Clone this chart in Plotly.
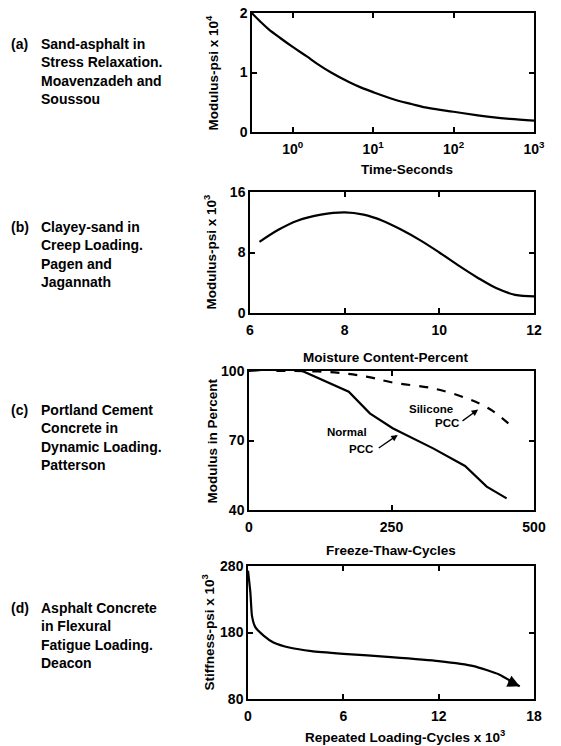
import plotly.graph_objects as go

# ---------------- data ----------------
# (a) Sand-asphalt, stress relaxation
a_time = [0.31, 0.4, 0.5, 0.7, 1, 1.5, 2, 3, 5, 7, 10, 20, 30, 50, 100, 200, 300, 500, 1000]
a_mod = [2.0, 1.85, 1.73, 1.58, 1.43, 1.27, 1.15, 1.0, 0.84, 0.75, 0.67, 0.53, 0.47, 0.40, 0.34, 0.28, 0.25, 0.22, 0.19]

# (b) Clayey-sand, creep loading
b_moist = [6.2, 6.6, 7.0, 7.5, 8.0, 8.4, 8.8, 9.2, 9.6, 10.0, 10.4, 10.8, 11.2, 11.6, 12.0]
b_mod = [9.4, 11.0, 12.2, 13.0, 13.3, 13.0, 12.2, 11.0, 9.6, 8.0, 6.3, 4.7, 3.3, 2.4, 2.2]

# (c) Portland cement concrete, dynamic loading
c_normal_x = [0, 78, 175, 212, 252, 323, 379, 417, 452]
c_normal_y = [100, 101.7, 91.1, 81.7, 75.3, 66.6, 59.0, 50.1, 45.0]
c_sil_x = [48, 80, 150, 206, 252, 323, 382, 423, 455]
c_sil_y = [100, 100, 99.4, 97.6, 95.0, 92.5, 88.2, 83.5, 77.4]

# (d) Asphalt concrete, flexural fatigue
d_cycles = [0.0, 0.15, 0.25, 0.46, 1.0, 1.6, 2.66, 4.0, 6.0, 9.0, 12.0, 14.2, 15.8, 17.1]
d_stiff = [273, 240, 205, 188, 175, 165, 157, 152, 148, 143, 137, 129.5, 117, 99]

labels_a = ["Sand-asphalt in", "Stress Relaxation.", "Moavenzadeh and", "Soussou"]
labels_b = ["Clayey-sand in", "Creep Loading.", "Pagen and", "Jagannath"]
labels_c = ["Portland Cement", "Concrete in", "Dynamic Loading.", "Patterson"]
labels_d = ["Asphalt Concrete", "in Flexural", "Fatigue Loading.", "Deacon"]

xtitles = ["Time-Seconds", "Moisture Content-Percent", "Freeze-Thaw-Cycles", "Repeated Loading-Cycles x 10<sup>3</sup>"]
ytitles = ["Modulus-psi x 10<sup>4</sup>", "Modulus-psi x 10<sup>3</sup>", "Modulus in Percent", "Stiffness-psi x 10<sup>3</sup>"]

W, H = 561, 746
FONT = "Liberation Sans Narrow, Liberation Sans, Arial, sans-serif"

def px_x(p):
    return p / W

def px_y(p):
    return 1 - p / H

fig = go.Figure()
line = dict(color="black", width=2.2)
fig.add_trace(go.Scatter(x=a_time, y=a_mod, mode="lines", line=dict(line, shape="spline"), xaxis="x", yaxis="y"))
fig.add_trace(go.Scatter(x=b_moist, y=b_mod, mode="lines", line=dict(line, shape="spline"), xaxis="x2", yaxis="y2"))
fig.add_trace(go.Scatter(x=c_normal_x, y=c_normal_y, mode="lines", line=line, xaxis="x3", yaxis="y3"))
fig.add_trace(go.Scatter(x=c_sil_x, y=c_sil_y, mode="lines", line=dict(line, dash="dash", shape="spline"), xaxis="x3", yaxis="y3"))
fig.add_trace(go.Scatter(x=d_cycles, y=d_stiff, mode="lines", line=dict(line, shape="spline", smoothing=0.5), xaxis="x4", yaxis="y4"))

tickfont = dict(family=FONT, size=14, color="black", weight="bold")
titlefont = dict(family=FONT, size=13.5, color="black", weight="bold")
common = dict(showline=True, linecolor="black", linewidth=1.5, mirror="ticks", ticks="inside",
              ticklen=5, tickwidth=1.5, tickcolor="black", showgrid=False, zeroline=False,
              tickfont=tickfont, automargin=False)

panels = [
    # x left px, y top px, y bottom px
    (252, 13, 132),
    (250, 192, 313),
    (249, 371, 510),
    (248, 566, 699),
]
R = 534
# axis title placement (px): x-title centre (x, y), y-title centre x
xt_pos = [(407, 169), (386, 357), (391, 550), (405, 736)]
yt_x = [212, 210, 212, 208]

layout = dict(width=W, height=H, margin=dict(l=0, r=0, t=0, b=0, autoexpand=False), showlegend=False,
              plot_bgcolor="white", paper_bgcolor="white", font=dict(family=FONT, color="black"))

xcfg = [
    dict(type="log", range=[-0.506, 3], tickvals=[1, 10, 100, 1000],
         ticktext=["10<sup>0</sup>", "10<sup>1</sup>", "10<sup>2</sup>", "10<sup>3</sup>"]),
    dict(range=[6, 12], tickvals=[6, 8, 10, 12]),
    dict(range=[0, 500], tickvals=[0, 250, 500]),
    dict(range=[0, 18], tickvals=[0, 6, 12, 18]),
]
ycfg = [
    dict(range=[0, 2], tickvals=[0, 1, 2]),
    dict(range=[0, 16], tickvals=[0, 8, 16]),
    dict(range=[40, 100], tickvals=[40, 70, 100]),
    dict(range=[80, 280], tickvals=[80, 180, 280]),
]

for i, (xl, yt, yb) in enumerate(panels):
    s = "" if i == 0 else str(i + 1)
    layout["xaxis" + s] = dict(common, **xcfg[i], domain=[px_x(xl), px_x(R)], anchor="y" + s,
                               ticklabelstandoff=3)
    layout["yaxis" + s] = dict(common, **ycfg[i], domain=[px_y(yb), px_y(yt)], anchor="x" + s)

fig.update_layout(**layout)

# axis titles
for i, (xl, yt, yb) in enumerate(panels):
    fig.add_annotation(text=xtitles[i], xref="paper", yref="paper", x=px_x(xt_pos[i][0]), y=px_y(xt_pos[i][1]),
                       xanchor="center", yanchor="middle", showarrow=False, font=titlefont)
    fig.add_annotation(text=ytitles[i], xref="paper", yref="paper", x=px_x(yt_x[i]), y=px_y((yt + yb) / 2),
                       xanchor="center", yanchor="middle", showarrow=False, font=titlefont, textangle=-90)

# side captions
label_sets = [("(a)", labels_a, 44), ("(b)", labels_b, 227), ("(c)", labels_c, 410), ("(d)", labels_d, 608)]
capfont = dict(family=FONT, size=14, color="black", weight="bold")
for tag, lines, y0 in label_sets:
    fig.add_annotation(text=tag, xref="paper", yref="paper", x=px_x(9), y=px_y(y0),
                       xanchor="left", yanchor="middle", showarrow=False, font=capfont)
    for k, t in enumerate(lines):
        fig.add_annotation(text=t, xref="paper", yref="paper", x=px_x(39), y=px_y(y0 + 18.3 * k),
                           xanchor="left", yanchor="middle", showarrow=False, font=capfont)

# curve labels in panel (c)
lblfont = dict(family=FONT, size=11.5, color="black", weight="bold")
for txt, x, y in [("Silicone", 319, 83.6), ("PCC", 348, 77.5), ("Normal", 172, 73.7), ("PCC", 197, 66.3)]:
    fig.add_annotation(text=txt, xref="x3", yref="y3", x=x, y=y, showarrow=False, font=lblfont)
fig.add_annotation(x=402, y=83.4, ax=372, ay=78, xref="x3", yref="y3", axref="x3", ayref="y3",
                   showarrow=True, arrowhead=2, arrowsize=1, arrowwidth=1.3, arrowcolor="black", text="")
fig.add_annotation(x=261, y=72.4, ax=225, ay=66.3, xref="x3", yref="y3", axref="x3", ayref="y3",
                   showarrow=True, arrowhead=2, arrowsize=1, arrowwidth=1.3, arrowcolor="black", text="")
# arrow at the end of curve (d)
fig.add_annotation(x=d_cycles[-1], y=d_stiff[-1], ax=16.3, ay=108, xref="x4", yref="y4", axref="x4", ayref="y4",
                   showarrow=True, arrowhead=2, arrowsize=1.2, arrowwidth=2, arrowcolor="black", text="")

fig.write_html("out.html", config={"displayModeBar": False},
               post_script="document.body.style.margin='0';")
